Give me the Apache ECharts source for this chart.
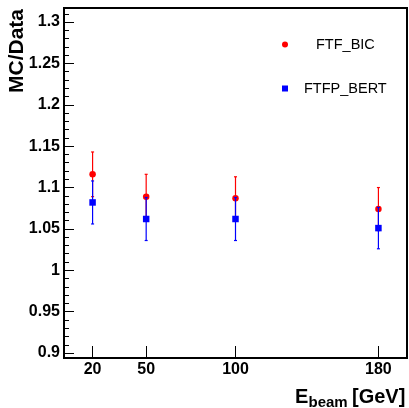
<!DOCTYPE html>
<html><head><meta charset="utf-8">
<script src="https://cdn.jsdelivr.net/npm/echarts@6/dist/echarts.min.js"></script>
<style>html,body{margin:0;padding:0;background:#fff}#c{width:409px;height:408px}</style>
</head><body><div id="c"></div>
<script>
// ---- data ----
const energies = [20, 50, 100, 180];
const ftfBic = [1.116, 1.089, 1.087, 1.074];
const ftfBicErr = [0.027, 0.027, 0.026, 0.026];
const ftfpBert = [1.082, 1.062, 1.062, 1.051];
const ftfpBertErr = [0.026, 0.026, 0.026, 0.025];
const xTicks = [20, 50, 100, 180];
const yTicks = [0.9, 0.95, 1, 1.05, 1.1, 1.15, 1.2, 1.25, 1.3];
const yMinorTicks = [];
for (let i = 0; i <= 41; i++) yMinorTicks.push(Math.round((0.9 + i * 0.01) * 100) / 100);

const FF = '"Liberation Sans", Arial, Helvetica, sans-serif';
const RED = '#ff0000', BLUE = '#0000ff';
const X_MIN = 4, X_MAX = 196, Y_MIN = 0.894, Y_MAX = 1.317;

function errSeries(name, vals, errs, color, z) {
  return {
    type: 'custom', name: name + ' err', silent: true, z: z,
    data: energies.map((e, i) => [e, vals[i] - errs[i], vals[i] + errs[i]]),
    encode: { x: 0, y: [1, 2] },
    renderItem: function (params, api) {
      const x = api.value(0);
      const lo = api.coord([x, api.value(1)]);
      const hi = api.coord([x, api.value(2)]);
      const cw = 1.5;
      const st = { stroke: color, lineWidth: 1.2 };
      return { type: 'group', children: [
        { type: 'line', shape: { x1: lo[0], y1: lo[1], x2: hi[0], y2: hi[1] }, style: st },
        { type: 'line', shape: { x1: lo[0] - cw, y1: lo[1], x2: lo[0] + cw, y2: lo[1] }, style: st },
        { type: 'line', shape: { x1: hi[0] - cw, y1: hi[1], x2: hi[0] + cw, y2: hi[1] }, style: st }
      ] };
    }
  };
}

const chart = echarts.init(document.getElementById('c'), null, { renderer: 'canvas' });
chart.setOption({
  animation: false,
  backgroundColor: '#fff',
  grid: { left: 64, top: 8, right: 2, bottom: 50, show: true, borderColor: '#000', borderWidth: 2, backgroundColor: 'transparent' },
  xAxis: {
    type: 'value', min: X_MIN, max: X_MAX,
    axisLine: { show: false },
    splitLine: { show: false },
    axisTick: { show: true, inside: true, length: 12, customValues: xTicks, lineStyle: { color: '#000', width: 1 } },
    axisLabel: { customValues: xTicks, margin: 4, color: '#000', fontFamily: FF, fontWeight: 'bold', fontSize: 16 }
  },
  yAxis: [{
    type: 'value', min: Y_MIN, max: Y_MAX,
    axisLine: { show: false },
    splitLine: { show: false },
    axisTick: { show: true, inside: true, length: 10, customValues: yTicks, lineStyle: { color: '#000', width: 1 } },
    axisLabel: { customValues: yTicks, margin: 4, color: '#000', fontFamily: FF, fontWeight: 'bold', fontSize: 16 }
  }, {
    type: 'value', min: Y_MIN, max: Y_MAX, position: 'left',
    axisLine: { show: false },
    splitLine: { show: false },
    axisTick: { show: true, inside: true, length: 5, customValues: yMinorTicks, lineStyle: { color: '#000', width: 1 } },
    axisLabel: { show: false }
  }],
  legend: [{
    data: [{ name: 'FTF_BIC', icon: 'circle' }],
    left: 282, top: 37, padding: 0, itemWidth: 6, itemHeight: 6, selectedMode: false,
    textStyle: { fontFamily: FF, fontSize: 14.5, color: '#000', padding: [0, 0, 0, 23] }
  }, {
    data: [{ name: 'FTFP_BERT', icon: 'rect' }],
    left: 282, top: 81, padding: 0, itemWidth: 6, itemHeight: 6, selectedMode: false,
    textStyle: { fontFamily: FF, fontSize: 14.5, color: '#000', padding: [0, 0, 0, 11] }
  }],
  graphic: [
    { type: 'text', x: 17.5, y: 93, rotation: Math.PI / 2, silent: true,
      style: { text: 'MC/Data', font: 'bold 21px ' + FF, fill: '#000', align: 'left', verticalAlign: 'middle' } },
    { type: 'text', x: 295, y: 397, silent: true,
      style: { text: 'E', font: 'bold 20px ' + FF, fill: '#000', align: 'left', verticalAlign: 'middle' } },
    { type: 'text', x: 308.5, y: 403, silent: true,
      style: { text: 'beam', font: 'bold 15px ' + FF, fill: '#000', align: 'left', verticalAlign: 'middle' } },
    { type: 'text', x: 352, y: 397, silent: true,
      style: { text: '[GeV]', font: 'bold 20px ' + FF, fill: '#000', align: 'left', verticalAlign: 'middle' } }
  ],
  series: [
    errSeries('FTF_BIC', ftfBic, ftfBicErr, RED, 2),
    { type: 'scatter', name: 'FTF_BIC', z: 3, symbol: 'circle', symbolSize: 6.5,
      itemStyle: { color: RED, opacity: 1 }, data: energies.map((e, i) => [e, ftfBic[i]]) },
    errSeries('FTFP_BERT', ftfpBert, ftfpBertErr, BLUE, 4),
    { type: 'scatter', name: 'FTFP_BERT', z: 5, symbol: 'rect', symbolSize: 6.5,
      itemStyle: { color: BLUE, opacity: 1 }, data: energies.map((e, i) => [e, ftfpBert[i]]) }
  ]
});
</script>
</body></html>
